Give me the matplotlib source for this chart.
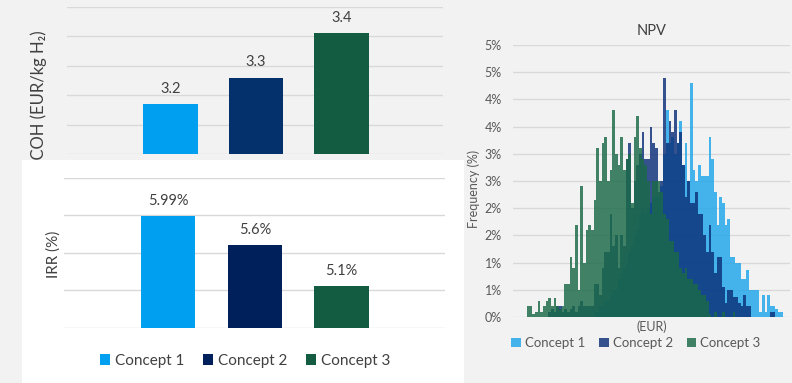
import matplotlib
matplotlib.use("Agg")
import matplotlib.pyplot as plt
import numpy as np

plt.rcParams['font.family'] = ['Lato', 'DejaVu Sans']

# ---- data ----
concepts = ["Concept 1", "Concept 2", "Concept 3"]
lcoh = [3.17, 3.26, 3.41]
lcoh_labels = ["3.2", "3.3", "3.4"]
irr = [5.99, 5.6, 5.06]
irr_labels = ["5.99%", "5.6%", "5.1%"]

# NPV histogram, frequency (%) per bin, same bins for all concepts
npv_c1 = [0] * 25 + [
    0.1, 0.1, 0.2, 0.2, 0.3, 0.3, 0.4, 0.5, 0.5, 0.7, 0.8, 0.9, 1.0, 1.2, 1.3,
    1.5, 1.6, 1.9, 2.0, 1.9, 2.0, 2.1, 2.2, 2.2, 2.2, 2.4, 3.0, 3.8, 3.2, 3.3,
    3.0, 3.2, 3.6, 2.8, 3.2, 2.5, 4.3, 2.7, 2.5, 2.8, 2.6, 2.6, 2.6, 3.3, 2.9,
    2.3, 1.7, 2.2, 2.1, 1.7, 1.8, 1.1, 1.1, 1.0, 1.0, 0.7, 0.7, 0.86, 0.5, 0.5,
    0.5, 0.5, 0.1, 0.4, 0.1, 0.4, 0.2, 0.2, 0.15, 0.1, 0.1]
npv_c2 = [0] * 8 + [
    0.1, 0.15, 0.1, 0.2, 0.2, 0.1, 0.15, 0.1, 0.15, 0.2, 0.1, 0.2, 0.3, 0.2,
    0.2, 0.2, 0.2, 0.6, 0.6, 0.4, 0.9, 1.2, 1.2, 1.9, 1.3, 1.5, 0.9, 1.5, 1.3,
    2.9, 3.2, 2.0, 2.5, 2.8, 3.0, 3.4, 2.9, 2.9, 3.5, 3.2, 3.1, 2.3, 2.5, 4.4,
    3.2, 3.6, 3.4, 3.8, 3.2, 3.4, 2.8, 2.2, 2.5, 2.1, 2.1, 2.3, 1.9, 1.9, 1.5,
    1.2, 1.7, 1.2, 0.8, 1.1, 1.1, 0.55, 0.25, 0.5, 0.5, 0.37, 0.37, 0.25, 0.2,
    0.4, 0.2, 0.2, 0, 0, 0, 0, 0, 0, 0, 0.1, 0.1, 0, 0, 0]
npv_c3 = [
    0.2, 0.2, 0.05, 0.1, 0.3, 0.1, 0.2, 0.3, 0.35, 0.2, 0.35, 0.2, 0.15, 0.2,
    0.6, 0.6, 1.1, 0.9, 1.7, 0.5, 2.4, 1.0, 1.6, 1.7, 1.6, 2.15, 3.1, 2.5, 3.2,
    3.3, 2.5, 2.7, 3.8, 3.0, 2.8, 3.3, 2.7, 2.9, 3.0, 2.1, 3.3, 3.7, 3.1, 2.9,
    2.8, 2.5, 1.9, 2.5, 2.5, 2.5, 2.3, 1.9, 1.8, 1.4, 1.4, 1.2, 1.2, 0.9, 0.8,
    0.9, 0.7, 0.7, 0.6, 0.6, 0.5, 0.4, 0.4, 0.3, 0.05, 0, 0.1, 0, 0, 0.1, 0, 0,
    0, 0.1] + [0] * 18
npv_ticks = [0, 0.5, 1, 1.5, 2, 2.5, 3, 3.5, 4, 4.5, 5]
npv_tick_labels = ["0%", "1%", "1%", "2%", "2%", "3%", "3%", "4%", "4%", "5%", "5%"]

bar_colors = ["#009FEF", "#04306B", "#135B41"]
irr_colors = ["#009FEF", "#00205C", "#135B41"]
hist_colors = ["#1FA5EA", "#0B2F78", "#1A6A48"]
bg = "#f2f2f2"
grid_c = "#d9d9d9"
txt = "#404040"

fig = plt.figure(figsize=(7.92, 3.83), dpi=100, facecolor=bg)


def clean(ax):
    for s in ax.spines.values():
        s.set_visible(False)
    ax.tick_params(length=0, colors="#595959")
    ax.grid(axis="y", color=grid_c, linewidth=1)
    ax.set_axisbelow(True)


# ---- LCOH (top left) ----
ax1 = fig.add_axes([67 / 792, 1 - 154 / 383, 376 / 792, 147 / 383])
ax1.set_facecolor(bg)
ax1.set_zorder(1)
clean(ax1)
x = np.arange(len(concepts))
b1 = ax1.bar(x, lcoh, width=0.64, color=bar_colors, bottom=0)
ax1.set_ylim(3.0, 3.5)
ax1.set_yticks(np.arange(3.0, 3.51, 0.1))
ax1.set_yticklabels([])
ax1.set_xticks([])
ax1.set_xlim(-1.21, 3.19)
for xi, v, lab in zip(x, lcoh, lcoh_labels):
    ax1.annotate(lab, (xi, v), xytext=(0, 6), textcoords="offset points",
                 ha="center", va="bottom", fontsize=10.5, color=txt)
ax1.set_ylabel("LCOH (EUR/kg H₂)", fontsize=12, color=txt)
ax1.yaxis.set_label_coords(-0.053, 0.37)

# ---- white box behind IRR ----
box = fig.add_axes([22 / 792, 0, 442 / 792, 223 / 383])
box.set_facecolor("white")
box.set_xticks([])
box.set_yticks([])
for s in box.spines.values():
    s.set_visible(False)
box.set_zorder(2)

# ---- IRR (bottom left) ----
ax2 = fig.add_axes([64 / 792, 1 - 328 / 383, 381 / 792, 150.3 / 383])
ax2.set_facecolor("none")
ax2.set_zorder(3)
clean(ax2)
bars = ax2.bar(x, irr, width=0.63, color=irr_colors)
ax2.set_ylim(4.5, 6.5)
ax2.set_yticks(np.arange(4.5, 6.51, 0.5))
ax2.set_yticklabels([])
ax2.set_xticks([])
ax2.set_xlim(-1.2, 3.19)
for xi, v, lab in zip(x, irr, irr_labels):
    ax2.annotate(lab, (xi, v), xytext=(0, 6), textcoords="offset points",
                 ha="center", va="bottom", fontsize=10.5, color=txt)
ax2.set_ylabel("IRR (%)", fontsize=11, color=txt)
ax2.yaxis.set_label_coords(-0.008, 0.49)
ax2.legend(bars, concepts, loc="center", bbox_to_anchor=(0.475, -0.22),
           ncol=3, frameon=False, fontsize=11, handlelength=0.7,
           handleheight=0.7, handletextpad=0.3, columnspacing=1.2,
           labelcolor=txt)

# ---- NPV histogram (right) ----
ax3 = fig.add_axes([513 / 792, 1 - 317 / 383, 277 / 792, 272 / 383])
ax3.set_facecolor(bg)
clean(ax3)
nb = len(npv_c3)
bins = np.arange(nb)
handles = []
for data, col, name in zip([npv_c1, npv_c2, npv_c3], hist_colors, concepts):
    h = ax3.bar(bins, data, width=1.0, align="edge", color=col, alpha=0.82,
                linewidth=0, label=name)
    handles.append(h)
ax3.set_xlim(-5.24, nb + 2.5)
ax3.set_ylim(0, 5)
ax3.set_yticks(npv_ticks)
ax3.set_yticklabels(npv_tick_labels, fontsize=9)
ax3.tick_params(axis="y", pad=8)
ax3.set_xticks([])
ax3.set_title("NPV", fontsize=10.5, color=txt, pad=7)
ax3.set_ylabel("Frequency (%)", fontsize=9, color="#595959")
ax3.yaxis.set_label_coords(-0.12, 0.47)
ax3.text(0.50, -0.037, "(EUR)", transform=ax3.transAxes, ha="center",
         va="center", fontsize=9, color="#595959")
ax3.legend(handles, concepts, loc="center", bbox_to_anchor=(0.444, -0.096),
           ncol=3, frameon=False, fontsize=9.5, handlelength=0.7,
           handleheight=0.7, handletextpad=0.3, columnspacing=1.1,
           labelcolor="#595959")

fig.savefig("out.png", dpi=100, facecolor=bg)
